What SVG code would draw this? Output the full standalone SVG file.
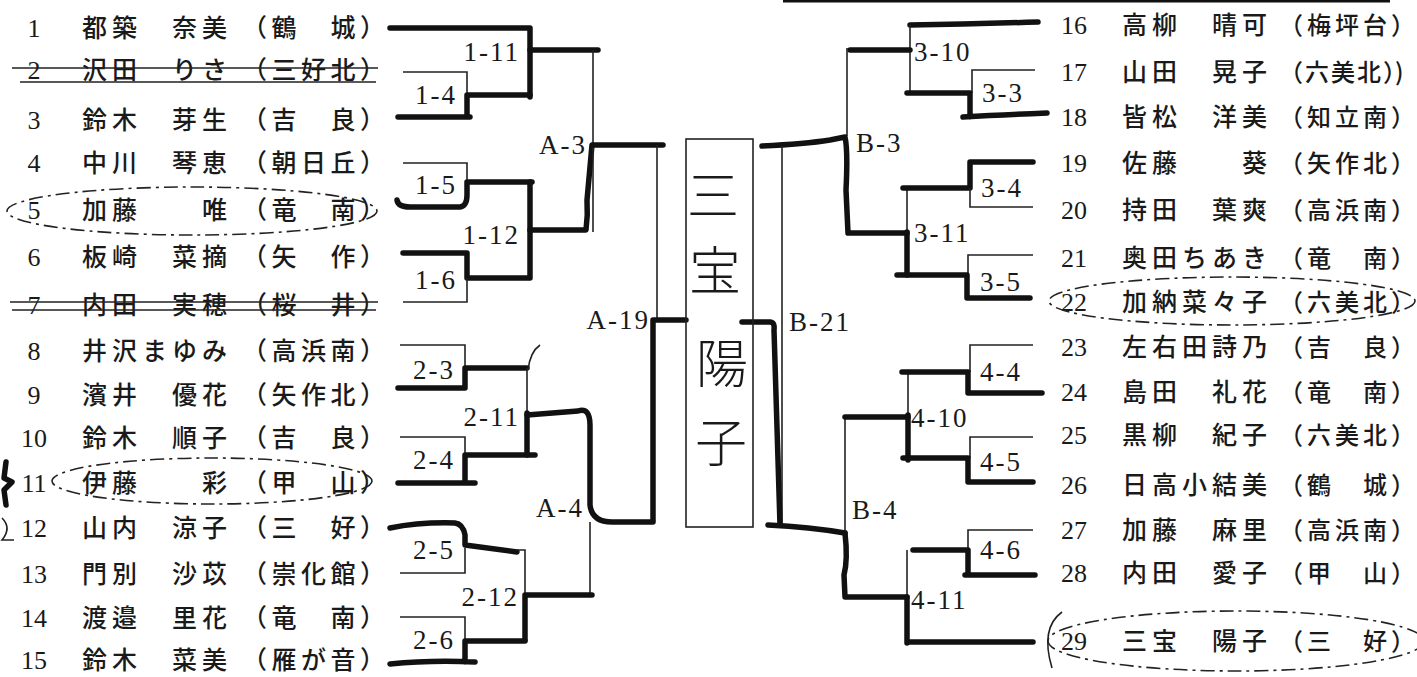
<svg xmlns="http://www.w3.org/2000/svg" width="1417" height="677" viewBox="0 0 1417 677">
<style>
.t{stroke:#111;stroke-width:5.5;fill:none;stroke-linecap:round;stroke-linejoin:round}
.n{stroke:#222;stroke-width:1.6;fill:none}
.c{stroke:#222;stroke-width:1.6;fill:none;stroke-dasharray:14 5 3 5}
.num{font-family:"Liberation Serif",serif;font-size:26px;fill:#1a1a1a;text-anchor:middle}
.nm{font-family:"Noto Sans CJK JP",sans-serif;font-size:25px;font-weight:500;letter-spacing:5px;fill:#1a1a1a}
.sc{font-family:"Noto Sans CJK JP",sans-serif;font-size:25px;font-weight:500;fill:#1a1a1a}
.sr{font-family:"Noto Sans CJK JP",sans-serif;font-size:24px;font-weight:500;fill:#1a1a1a}
.lb{font-family:"Liberation Serif",serif;font-size:27px;letter-spacing:2px;fill:#1a1a1a}
.big{font-family:"Noto Sans CJK JP",sans-serif;font-size:52px;font-weight:300;fill:#1a1a1a;text-anchor:middle}
</style>
<rect width="1417" height="677" fill="#fff"/>
<g id="connectors">
<path d="M783,1 H1390" stroke="#111" stroke-width="3"/>
<path class="t" d="M390,28 H530 V97"/>
<path class="t" d="M530,50 H598"/>
<path class="n" d="M403,72 H467 V95"/>
<path class="t" d="M398,117 H470 M467,117 V95 H530"/>
<path class="n" d="M403,163 H467 V182"/>
<path class="t" d="M397,200 Q398,207 410,207 H460 Q467,206 467,195 V182 H532"/>
<path class="t" d="M530,182 V278"/>
<path class="t" d="M403,253 H467 V278 H528"/>
<path class="n" d="M467,278 V302 H403"/>
<path class="t" d="M530,230 H586 Q588,215 587,200 L592,145"/>
<path class="n" d="M593,50 V232"/>
<path class="t" d="M593,145 H663"/>
<path class="n" d="M657,145 V320"/>
<path class="t" d="M653,320 H686 M653,320 V520"/>
<path class="n" d="M400,345 H465 V368"/>
<path class="t" d="M398,388 H465 V368 H527"/>
<path class="n" d="M527,368 V413 M528,370 Q530,352 540,345"/>
<path class="t" d="M527,413 V455"/>
<path class="n" d="M400,437 H465 V455"/>
<path class="t" d="M398,483 H475 M465,482 V455 H535"/>
<path class="t" d="M527,415 L578,411 Q590,407 590,425 V505 Q592,522 612,522 H653"/>
<path class="n" d="M590,522 V597"/>
<path class="t" d="M390,528 Q420,522 455,523 Q463,524 465,535 V545 L517,552"/>
<path class="n" d="M517,550 H525 V595"/>
<path class="n" d="M465,548 V573 H400"/>
<path class="t" d="M525,595 H592 M525,595 V640"/>
<path class="n" d="M400,617 H465 V640"/>
<path class="t" d="M390,664 Q430,660 475,662 M465,662 V641 H525"/>
<path class="t" d="M910,25 Q970,24 1038,22"/>
<path class="n" d="M910,25 V93" stroke-width="2.6"/>
<path class="t" d="M910,50 H850"/>
<path class="n" d="M1035,70 H972 V93"/>
<path class="t" d="M1047,113 Q1000,115 963,117 M970,117 V93 H907"/>
<path class="n" d="M847,48 V136"/>
<path class="t" d="M762,146 Q805,144 830,140 L845,137 Q848,150 846,190 L848,233 H907"/>
<path class="n" d="M907,188 V232"/>
<path class="t" d="M907,232 V275"/>
<path class="t" d="M1033,162 H970 V188 H903"/>
<path class="n" d="M970,188 V207 H1033"/>
<path class="n" d="M1033,255 H968 V275"/>
<path class="t" d="M1030,298 H967 V275 H897"/>
<path class="n" d="M782,146 V523"/>
<path class="t" d="M742,322 H770 Q775,322 774,330 L780,525"/>
<path class="t" d="M768,525 Q810,527 845,533"/>
<path class="n" d="M845,415 V530"/>
<path class="t" d="M845,533 Q848,560 844,575 L845,597 H907"/>
<path class="t" d="M845,417 H908"/>
<path class="n" d="M908,372 V415"/>
<path class="t" d="M908,415 V460"/>
<path class="n" d="M1033,345 H970 V372"/>
<path class="t" d="M1042,393 H968 V372 H902"/>
<path class="n" d="M1033,437 H970 V458"/>
<path class="t" d="M1033,482 H968 V458 H903"/>
<path class="n" d="M1033,530 H968 V550"/>
<path class="t" d="M1035,575 H965 M968,575 V550 H913"/>
<path class="n" d="M907,550 V597"/>
<path class="t" d="M907,597 V643 M907,642 H1033"/>
<path class="t" d="M6,462 L4,478 L12,482 L4,490 L6,505"/>
<path class="n" d="M2,518 Q12,528 2,540 H14"/>
</g>
<g id="champion">
<rect class="n" x="686" y="139" width="67" height="388"/>
<text class="big" x="713" y="215">三</text>
<text class="big" x="715" y="290">宝</text>
<text class="big" x="722" y="383">陽</text>
<text class="big" x="721" y="462">子</text>
</g>
<g id="matches">
<text class="lb" x="520" y="61" text-anchor="end">1-11</text>
<text class="lb" x="436" y="104" text-anchor="middle">1-4</text>
<text class="lb" x="436" y="194" text-anchor="middle">1-5</text>
<text class="lb" x="520" y="244" text-anchor="end">1-12</text>
<text class="lb" x="436" y="289" text-anchor="middle">1-6</text>
<text class="lb" x="587" y="154" text-anchor="end">A-3</text>
<text class="lb" x="650" y="329" text-anchor="end">A-19</text>
<text class="lb" x="434" y="379" text-anchor="middle">2-3</text>
<text class="lb" x="520" y="426" text-anchor="end">2-11</text>
<text class="lb" x="434" y="469" text-anchor="middle">2-4</text>
<text class="lb" x="584" y="517" text-anchor="end">A-4</text>
<text class="lb" x="434" y="559" text-anchor="middle">2-5</text>
<text class="lb" x="519" y="606" text-anchor="end">2-12</text>
<text class="lb" x="434" y="649" text-anchor="middle">2-6</text>
<text class="lb" x="914" y="61">3-10</text>
<text class="lb" x="1003" y="102" text-anchor="middle">3-3</text>
<text class="lb" x="856" y="152">B-3</text>
<text class="lb" x="1002" y="197" text-anchor="middle">3-4</text>
<text class="lb" x="914" y="242">3-11</text>
<text class="lb" x="1001" y="291" text-anchor="middle">3-5</text>
<text class="lb" x="789" y="331">B-21</text>
<text class="lb" x="1001" y="381" text-anchor="middle">4-4</text>
<text class="lb" x="911" y="427">4-10</text>
<text class="lb" x="1001" y="471" text-anchor="middle">4-5</text>
<text class="lb" x="852" y="519">B-4</text>
<text class="lb" x="1001" y="559" text-anchor="middle">4-6</text>
<text class="lb" x="911" y="609">4-11</text>
</g>
<g id="p1"><text class="num" x="34" y="37">1</text><text class="nm" x="82" y="37">都築　奈美</text><text class="sc" x="242" y="37" dx="0 4.5 4.5 4.5 4.5">（鶴　城）</text></g>
<g id="p2"><text class="num" x="34" y="79">2</text><text class="nm" x="82" y="79">沢田　りさ</text><text class="sc" x="242" y="79" dx="0 4.5 4.5 4.5 4.5">（三好北）</text><path class="n" d="M12,68 H378 M20,82 H376"/></g>
<g id="p3"><text class="num" x="34" y="129">3</text><text class="nm" x="82" y="129">鈴木　芽生</text><text class="sc" x="242" y="129" dx="0 4.5 4.5 4.5 4.5">（吉　良）</text></g>
<g id="p4"><text class="num" x="34" y="172">4</text><text class="nm" x="82" y="172">中川　琴恵</text><text class="sc" x="242" y="172" dx="0 4.5 4.5 4.5 4.5">（朝日丘）</text></g>
<g id="p5"><text class="num" x="34" y="219">5</text><text class="nm" x="82" y="219">加藤　　唯</text><text class="sc" x="242" y="219" dx="0 4.5 4.5 4.5 4.5">（竜　南）</text><ellipse class="c" cx="192" cy="211" rx="185" ry="24"/></g>
<g id="p6"><text class="num" x="34" y="266">6</text><text class="nm" x="82" y="266">板崎　菜摘</text><text class="sc" x="242" y="266" dx="0 4.5 4.5 4.5 4.5">（矢　作）</text></g>
<g id="p7"><text class="num" x="34" y="314">7</text><text class="nm" x="82" y="314">内田　実穂</text><text class="sc" x="242" y="314" dx="0 4.5 4.5 4.5 4.5">（桜　井）</text><path class="n" d="M10,302 H378 M12,310 H376"/></g>
<g id="p8"><text class="num" x="34" y="360">8</text><text class="nm" x="82" y="360">井沢まゆみ</text><text class="sc" x="242" y="360" dx="0 4.5 4.5 4.5 4.5">（高浜南）</text></g>
<g id="p9"><text class="num" x="34" y="404">9</text><text class="nm" x="82" y="404">濱井　優花</text><text class="sc" x="242" y="404" dx="0 4.5 4.5 4.5 4.5">（矢作北）</text></g>
<g id="p10"><text class="num" x="34" y="447">10</text><text class="nm" x="82" y="447">鈴木　順子</text><text class="sc" x="242" y="447" dx="0 4.5 4.5 4.5 4.5">（吉　良）</text></g>
<g id="p11"><text class="num" x="34" y="492">11</text><text class="nm" x="82" y="492">伊藤　　彩</text><text class="sc" x="242" y="492" dx="0 4.5 4.5 4.5 4.5">（甲　山）</text><ellipse class="c" cx="212" cy="481" rx="160" ry="23"/></g>
<g id="p12"><text class="num" x="34" y="537">12</text><text class="nm" x="82" y="537">山内　涼子</text><text class="sc" x="242" y="537" dx="0 4.5 4.5 4.5 4.5">（三　好）</text></g>
<g id="p13"><text class="num" x="34" y="583">13</text><text class="nm" x="82" y="583">門別　沙苡</text><text class="sc" x="242" y="583" dx="0 4.5 4.5 4.5 4.5">（崇化館）</text></g>
<g id="p14"><text class="num" x="34" y="627">14</text><text class="nm" x="82" y="627">渡邉　里花</text><text class="sc" x="242" y="627" dx="0 4.5 4.5 4.5 4.5">（竜　南）</text></g>
<g id="p15"><text class="num" x="34" y="669">15</text><text class="nm" x="82" y="669">鈴木　菜美</text><text class="sc" x="242" y="669" dx="0 4.5 4.5 4.5 4.5">（雁が音）</text></g>
<g id="p16"><text class="num" x="1074" y="34">16</text><text class="nm" x="1122" y="34">高柳　晴可</text><text class="sr" x="1279" y="34" dx="0 4 4 4 4">（梅坪台）</text></g>
<g id="p17"><text class="num" x="1074" y="81">17</text><text class="nm" x="1122" y="81">山田　晃子</text><text class="sr" x="1279" y="81" dx="0 2 2 2 2 0">（六美北）)</text></g>
<g id="p18"><text class="num" x="1074" y="126">18</text><text class="nm" x="1122" y="126">皆松　洋美</text><text class="sr" x="1279" y="126" dx="0 4 4 4 4">（知立南）</text></g>
<g id="p19"><text class="num" x="1074" y="172">19</text><text class="nm" x="1122" y="172">佐藤　　葵</text><text class="sr" x="1279" y="172" dx="0 4 4 4 4">（矢作北）</text></g>
<g id="p20"><text class="num" x="1074" y="219">20</text><text class="nm" x="1122" y="219">持田　葉爽</text><text class="sr" x="1279" y="219" dx="0 4 4 4 4">（高浜南）</text></g>
<g id="p21"><text class="num" x="1074" y="267">21</text><text class="nm" x="1122" y="267">奥田ちあき</text><text class="sr" x="1279" y="267" dx="0 4 4 4 4">（竜　南）</text></g>
<g id="p22"><text class="num" x="1074" y="311">22</text><text class="nm" x="1122" y="311">加納菜々子</text><text class="sr" x="1279" y="311" dx="0 4 4 4 4">（六美北）</text><ellipse class="c" cx="1232" cy="301" rx="183" ry="24"/></g>
<g id="p23"><text class="num" x="1074" y="356">23</text><text class="nm" x="1122" y="356">左右田詩乃</text><text class="sr" x="1279" y="356" dx="0 4 4 4 4">（吉　良）</text></g>
<g id="p24"><text class="num" x="1074" y="401">24</text><text class="nm" x="1122" y="401">島田　礼花</text><text class="sr" x="1279" y="401" dx="0 4 4 4 4">（竜　南）</text></g>
<g id="p25"><text class="num" x="1074" y="444">25</text><text class="nm" x="1122" y="444">黒柳　紀子</text><text class="sr" x="1279" y="444" dx="0 4 4 4 4">（六美北）</text></g>
<g id="p26"><text class="num" x="1074" y="494">26</text><text class="nm" x="1122" y="494">日高小結美</text><text class="sr" x="1279" y="494" dx="0 4 4 4 4">（鶴　城）</text></g>
<g id="p27"><text class="num" x="1074" y="539">27</text><text class="nm" x="1122" y="539">加藤　麻里</text><text class="sr" x="1279" y="539" dx="0 4 4 4 4">（高浜南）</text></g>
<g id="p28"><text class="num" x="1074" y="582">28</text><text class="nm" x="1122" y="582">内田　愛子</text><text class="sr" x="1279" y="582" dx="0 4 4 4 4">（甲　山）</text></g>
<g id="p29"><text class="num" x="1074" y="650">29</text><text class="nm" x="1122" y="650">三宝　陽子</text><text class="sr" x="1279" y="650" dx="0 4 4 4 4">（三　好）</text><ellipse class="c" cx="1236" cy="641" rx="188" ry="30"/><path class="n" d="M1062,612 Q1040,628 1052,668"/></g>
</svg>
